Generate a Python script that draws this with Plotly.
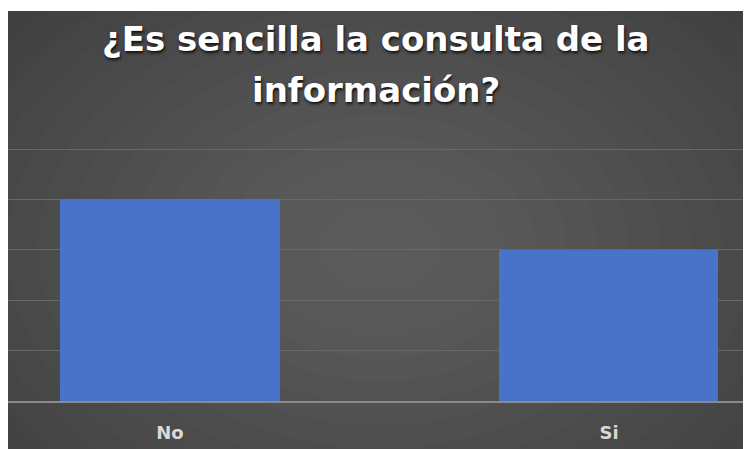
import plotly.graph_objects as go

categories = ["No", "Si"]
values = [4, 3]
title_lines = ["¿Es sencilla la consulta de la", "información?"]

# figure sits inside page body with 8px default margin
W, H = 743, 441
ymax = 5.2
L, R, B = 0, 0, 48
T = int(round(H - B - ymax * 50.4))
pw, ph = W - L - R, H - T - B

def px_x(x):
    return (x - L) / pw

def px_y(y):
    return (H - B - y) / ph

fig = go.Figure()
fig.add_trace(go.Bar(
    x=categories, y=values,
    width=0.4989,
    marker=dict(color="#4873c9", line=dict(width=0)),
    hoverinfo="skip",
))

shapes = [dict(type="rect", xref="paper", yref="paper",
               x0=px_x(0), x1=px_x(W), y0=px_y(H), y1=px_y(3),
               fillcolor="#3b3b3b", line=dict(width=0), layer="below")]
cx, cy = 372, 240
n = 18
for i in range(n):
    f = 1 - i / n
    rx, ry = 560 * f, 400 * f
    shapes.append(dict(type="circle", xref="paper", yref="paper",
                       x0=px_x(cx - rx), x1=px_x(cx + rx), y0=px_y(cy + ry), y1=px_y(cy - ry),
                       fillcolor="rgba(255,255,255,0.0125)", line=dict(width=0), layer="below"))

title_font = dict(family="DejaVu Sans", size=34, color="#ffffff", weight="bold",
                  shadow="1px 2px 3px rgba(0,0,0,0.8)")
annotations = [
    dict(text=title_lines[0], xref="paper", yref="paper", x=px_x(367.5), y=px_y(53),
         xanchor="center", yanchor="bottom", showarrow=False, font=title_font),
    dict(text=title_lines[1], xref="paper", yref="paper", x=px_x(368), y=px_y(104),
         xanchor="center", yanchor="bottom", showarrow=False, font=title_font),
]

fig.update_layout(
    width=W, height=H,
    margin=dict(l=L, r=R, t=T, b=B, pad=0),
    paper_bgcolor="white",
    plot_bgcolor="rgba(0,0,0,0)",
    showlegend=False,
    shapes=shapes,
    annotations=annotations,
    bargap=0,
)
fig.update_xaxes(type="category", range=[-0.369, 1.3235], showline=True, linecolor="#8a8a8a",
                 linewidth=2, showgrid=False, ticks="outside", ticklen=14, tickcolor="rgba(0,0,0,0)",
                 tickfont=dict(family="DejaVu Sans", size=18, color="#d9d9d9", weight="bold"),
                 fixedrange=True)
fig.update_yaxes(range=[0, ymax], tickvals=[1, 2, 3, 4, 5], showticklabels=False, showgrid=True,
                 gridcolor="#686868", gridwidth=1, zeroline=False, showline=False, fixedrange=True)

fig.write_html("out.html", config={"displayModeBar": False})
